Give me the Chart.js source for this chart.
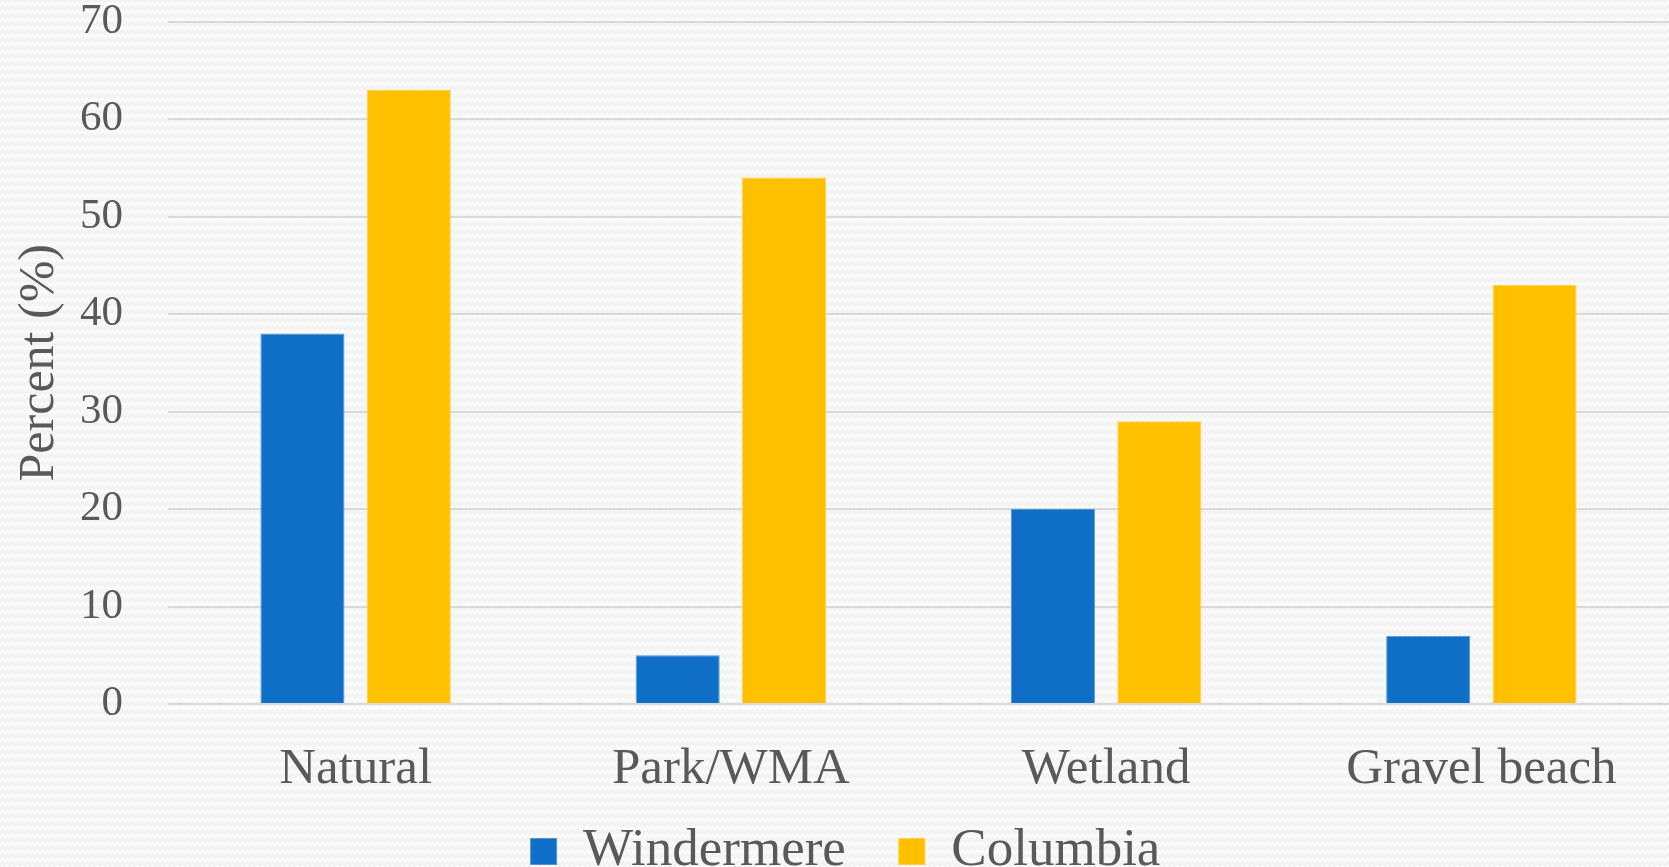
<!DOCTYPE html>
<html>
<head>
<meta charset="utf-8">
<script src="https://cdn.jsdelivr.net/npm/chart.js@4"></script>
<style>
    html, body
    {
        margin: 0;
        padding: 0;
        width: 1669px;
        height: 867px;
        overflow: hidden;
        background-color: #f3f3f3;
        background-image: url("data:image/svg+xml;utf8,<svg xmlns='http://www.w3.org/2000/svg' width='10' height='8'><path d='M0 6 L2.5 2 L5 6 L7.5 2 L10 6' fill='none' stroke='%23ffffff' stroke-width='1.2'/></svg>");
    }
    #wrap
    {
        position: relative;
        width: 1669px;
        height: 867px;
    }
</style>
</head>
<body>
<div id="wrap"><canvas id="chart"></canvas></div>
<script>
const categories = ["Natural", "Park/WMA", "Wetland", "Gravel beach"];
const windermere = [38, 5, 20, 7];
const columbia = [63, 54, 29, 43];
const yTicks = [0, 10, 20, 30, 40, 50, 60, 70];

const textColor = "#595959";
const serif = "'Liberation Serif', 'Times New Roman', serif";

new Chart(document.getElementById("chart"),
{
    type: "bar",
    data:
    {
        labels: categories,
        datasets:
        [
            {
                label: "Windermere",
                data: windermere,
                backgroundColor: "#0F6FC6",
                borderColor: "#4d93d6",
                borderWidth: 1
            },
            {
                label: "Columbia",
                data: columbia,
                backgroundColor: "#FFC000",
                borderColor: "#ffcf40",
                borderWidth: 1
            }
        ]
    },
    options:
    {
        responsive: true,
        maintainAspectRatio: false,
        animation: false,
        datasets:
        {
            bar:
            {
                categoryPercentage: 0.567,
                barPercentage: 0.79
            }
        },
        layout:
        {
            padding: { left: 22, right: 0, top: 0, bottom: -21 }
        },
        plugins:
        {
            tooltip: { enabled: false },
            legend:
            {
                position: "bottom",
                labels:
                {
                    color: textColor,
                    font: { family: serif, size: 53 },
                    boxWidth: 26,
                    boxHeight: 26,
                    padding: 0,
                    // widen the gap between the two entries without touching the vertical spacing
                    generateLabels: chart =>
                    {
                        const items = Chart.defaults.plugins.legend.labels.generateLabels(chart);
                        items.forEach((it, i) => { if (i < items.length - 1) it.text = it.text + "\u00a0\u00a0\u00a0\u00a0"; });
                        return items;
                    }
                }
            }
        },
        scales:
        {
            x:
            {
                grid: { display: false, drawTicks: false },
                border: { display: false },
                ticks:
                {
                    color: textColor,
                    font: { family: serif, size: 51, lineHeight: 1.0 },
                    padding: 40,
                    maxRotation: 0
                },
                // labels sit nearer the legend than the symmetric tick padding allows
                afterFit: scale => { scale.height -= 10; }
            },
            y:
            {
                min: yTicks[0],
                max: yTicks[yTicks.length - 1],
                afterBuildTicks: axis => { axis.ticks = yTicks.map(v => ({ value: v })); },
                // invisible tick marks give the label gap without padding the top of the plot
                grid: { color: "#d9d9d9", lineWidth: 2, drawTicks: true, tickLength: 45, tickColor: "rgba(0,0,0,0)" },
                border: { display: false },
                ticks:
                {
                    color: textColor,
                    font: { family: serif, size: 43, lineHeight: 1.0 },
                    padding: 0
                },
                title:
                {
                    display: true,
                    text: "Percent (%)",
                    color: textColor,
                    font: { family: serif, size: 50 },
                    padding: { top: -12, bottom: 10 }
                }
            }
        }
    }
});
</script>
</body>
</html>
